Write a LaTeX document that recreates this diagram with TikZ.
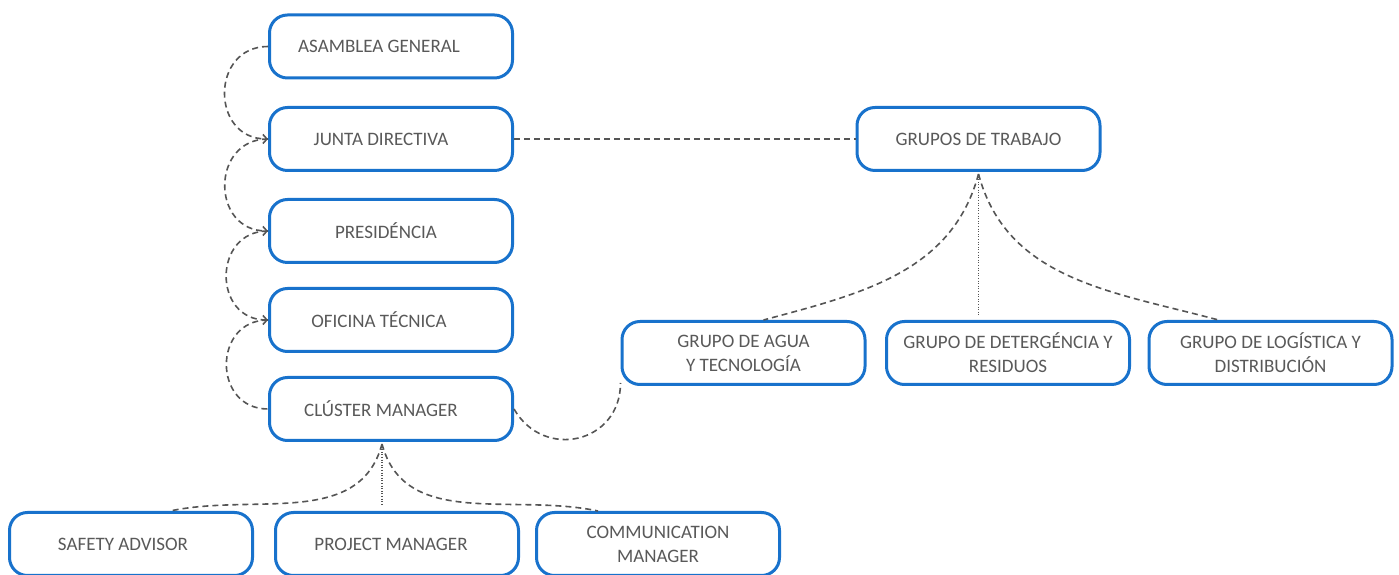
\documentclass[tikz,border=0pt]{standalone}
\usepackage{fontspec}
\setmainfont{Carlito}
\usepackage{tikz}
\usetikzlibrary{arrows.meta,positioning}
\definecolor{boxblue}{RGB}{24,114,204}
\definecolor{txtgray}{RGB}{89,89,89}
\definecolor{linegray}{RGB}{85,85,85}
\tikzstyle{unit} = [draw=boxblue, line width=3pt, fill=white, rounded corners=18pt, minimum width=243pt, minimum height=63pt, inner sep=0pt, text=txtgray, align=center, font=\fontsize{19}{24}\selectfont]
\tikzset{
  link/.style ={draw=linegray, line width=1.6pt, dash pattern=on 6pt off 4pt},
  dots/.style ={draw=linegray, line width=1.2pt, dash pattern=on 1pt off 1.6pt},
  chain/.style ={-{Straight Barb[length=4pt,width=9pt]}}
}

\begin{document}
\begin{tikzpicture}[x=1pt,y=1pt]
 \useasboundingbox (0,0) rectangle (1399,575);
 \clip (0,0) rectangle (1399,575);
 \node[unit] (asamblea) at (391,528.5) {ASAMBLEA GENERAL\hspace*{24pt}};
 \node[unit] (junta) at (391,436) {JUNTA DIRECTIVA\hspace*{20pt}};
 \node[unit] (presi) at (391,344) {PRESIDÉNCIA\hspace*{10pt}};
 \node[unit] (oficina) at (391,255) {OFICINA TÉCNICA\hspace*{24pt}};
 \node[unit] (cluster) at (391,166) {CLÚSTER MANAGER\hspace*{20pt}};
 \node[unit] (grupos) at (978.5,436) {GRUPOS DE TRABAJO};
 \node[unit] (agua) at (743.5,222) {GRUPO DE AGUA\\Y TECNOLOGÍA};
 \node[unit] (deterg) at (1008,222) {GRUPO DE DETERGÉNCIA Y\\RESIDUOS};
 \node[unit] (logist) at (1270.5,222) {GRUPO DE LOGÍSTICA Y\\DISTRIBUCIÓN};
 \node[unit] (safety) at (131,31) {SAFETY ADVISOR\hspace*{16pt}};
 \node[unit] (project) at (397,31) {PROJECT MANAGER\hspace*{12pt}};
 \node[unit] (comm) at (658,31) {COMMUNICATION\\MANAGER};
 \coordinate (cluhub) at ([xshift=-9pt,yshift=-2pt]cluster.south);
 \coordinate (grphub) at ([yshift=-2pt]grupos.south);
 \begin{scope}[every path/.style=link]
   \path[chain] (asamblea.west) to[out=180,in=180,looseness=1.6] (junta.west);
   \path[chain] (junta.west) to[out=180,in=180,looseness=1.6] (presi.west);
   \path[chain] (presi.west) to[out=180,in=180,looseness=1.6] (oficina.west);
   \path (oficina.west) to[out=180,in=180,looseness=1.6] (cluster.west);
   \path (junta.east) -- (grupos.west);
   \path (cluster.east) to[out=-60,in=-90,looseness=1.4] ([yshift=-30pt]agua.west);
   \path (cluhub) to[out=-105,in=12] ([xshift=39pt]safety.north);
   \path (cluhub) to[out=-75,in=168] ([xshift=-60pt]comm.north);
   \path (grphub) to[out=-105,in=15] ([xshift=20pt]agua.north);
   \path (grphub) to[out=-75,in=165] ([xshift=-52pt]logist.north);
 \end{scope}
 \draw[dots, shorten >=6pt] (cluhub) -- (cluhub |- project.north);
 \draw[dots, shorten >=4pt] (grphub) -- (grphub |- deterg.north);
\end{tikzpicture}
\end{document}
